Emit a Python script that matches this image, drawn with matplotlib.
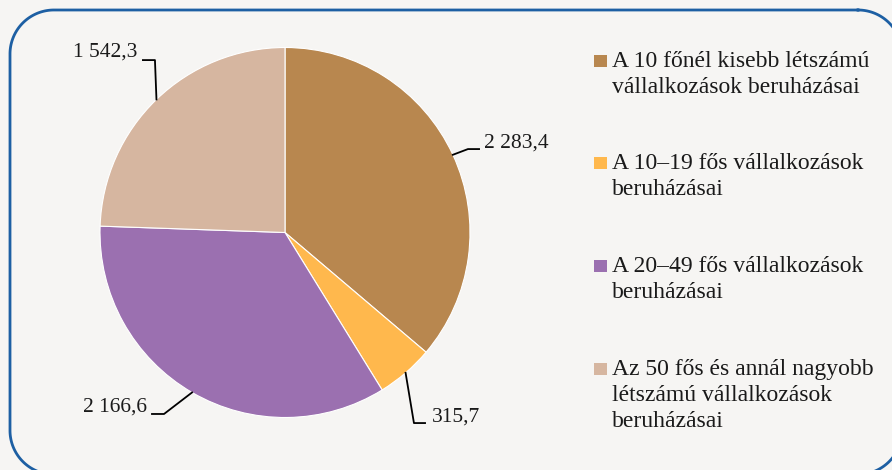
import numpy as np
import matplotlib.pyplot as plt

# investment values by company size
values = [2283.4, 315.7, 2166.6, 1542.3]
value_labels = ['2 283,4', '315,7', '2 166,6', '1 542,3']
legend_labels = [
    'A 10 főnél kisebb létszámú\nvállalkozások beruházásai',
    'A 10–19 fős vállalkozások\nberuházásai',
    'A 20–49 fős vállalkozások\nberuházásai',
    'Az 50 fős és annál nagyobb\nlétszámú vállalkozások\nberuházásai',
]
colors = ['#b8874f', '#ffb84d', '#9b70b0', '#d6b6a0']

BG = '#f6f5f3'
W, H = 892, 470

plt.rcParams['font.family'] = ['Liberation Serif', 'DejaVu Serif']
plt.rcParams['savefig.bbox'] = 'standard'
plt.rcParams['path.simplify'] = False

fig = plt.figure(figsize=(W / 100, H / 100), dpi=100)
fig.patch.set_facecolor(BG)

# background axes in pixel units (y measured from the bottom)
bg = fig.add_axes([0, 0, 1, 1])
bg.set_xlim(0, W)
bg.set_ylim(0, H)
bg.axis('off')


def rounded_frame(x0, top, x1, bottom, r):
    # corner centres and arc angles, going clockwise from top-left
    corners = [((x1 - r, top + r), -90, 0), ((x1 - r, bottom - r), 0, 90),
               ((x0 + r, bottom - r), 90, 180), ((x0 + r, top + r), 180, 270)]
    xs, ys = [], []
    for (cx, cy), a0, a1 in corners:
        t = np.deg2rad(np.linspace(a0, a1, 200))
        xs.extend(cx + r * np.cos(t))
        ys.extend(cy + r * np.sin(t))
    xs.append(xs[0])
    ys.append(ys[0])
    xs, ys = np.array(xs), np.array(ys)
    # drop the parts that fall outside the picture
    out = (xs > W + 1) | (ys > H + 1)
    xs[out] = np.nan
    ys[out] = np.nan
    return xs, H - ys


fx, fy = rounded_frame(10, 10, 902, 474.5, 44)
bg.plot(fx, fy, color='#1d5fa3', linewidth=2, clip_on=False)

ax = fig.add_axes([100 / W, 1 - 418 / H, 370 / W, 371 / H])
ax.set_facecolor('none')
wedges, _ = ax.pie(values, colors=colors, startangle=90, counterclock=False,
                   radius=1, wedgeprops=dict(edgecolor='white', linewidth=0.8))
ax.set_xlim(-1, 1)
ax.set_ylim(-1, 1)
ax.set_aspect('equal')
ax.axis('off')

# leader lines: elbow point, line end, text anchor (in pie radius units)
layout = [
    ((0.989, 0.451), (1.049, 0.451), (1.076, 0.484), 'left'),
    ((0.697, -1.030), (0.757, -1.030), (0.795, -0.996), 'left'),
    ((-0.654, -0.981), (-0.719, -0.981), (-0.746, -0.943), 'right'),
    ((-0.703, 0.932), (-0.768, 0.932), (-0.800, 0.973), 'right'),
]
for w, lab, (elbow, end, txt, ha) in zip(wedges, value_labels, layout):
    ang = np.deg2rad((w.theta1 + w.theta2) / 2)
    x0, y0 = np.cos(ang), np.sin(ang)
    ax.plot([x0, elbow[0], end[0]], [y0, elbow[1], end[1]],
            color='black', linewidth=1.3, clip_on=False)
    ax.text(txt[0], txt[1], lab, ha=ha, va='center', fontsize=15.5,
            color='#1a1a1a', clip_on=False)

# legend drawn by hand to keep the wide line spacing
tops = [51, 153, 256, 359]
for top, lab, c in zip(tops, legend_labels, colors):
    bg.add_patch(plt.Rectangle((594, H - top - 16), 13, 12, facecolor=c,
                               edgecolor='none'))
    bg.text(612, H - top, lab, ha='left', va='top', fontsize=17,
            linespacing=1.32, color='#1a1a1a')

fig.savefig('out.png', dpi=100, facecolor=BG)
